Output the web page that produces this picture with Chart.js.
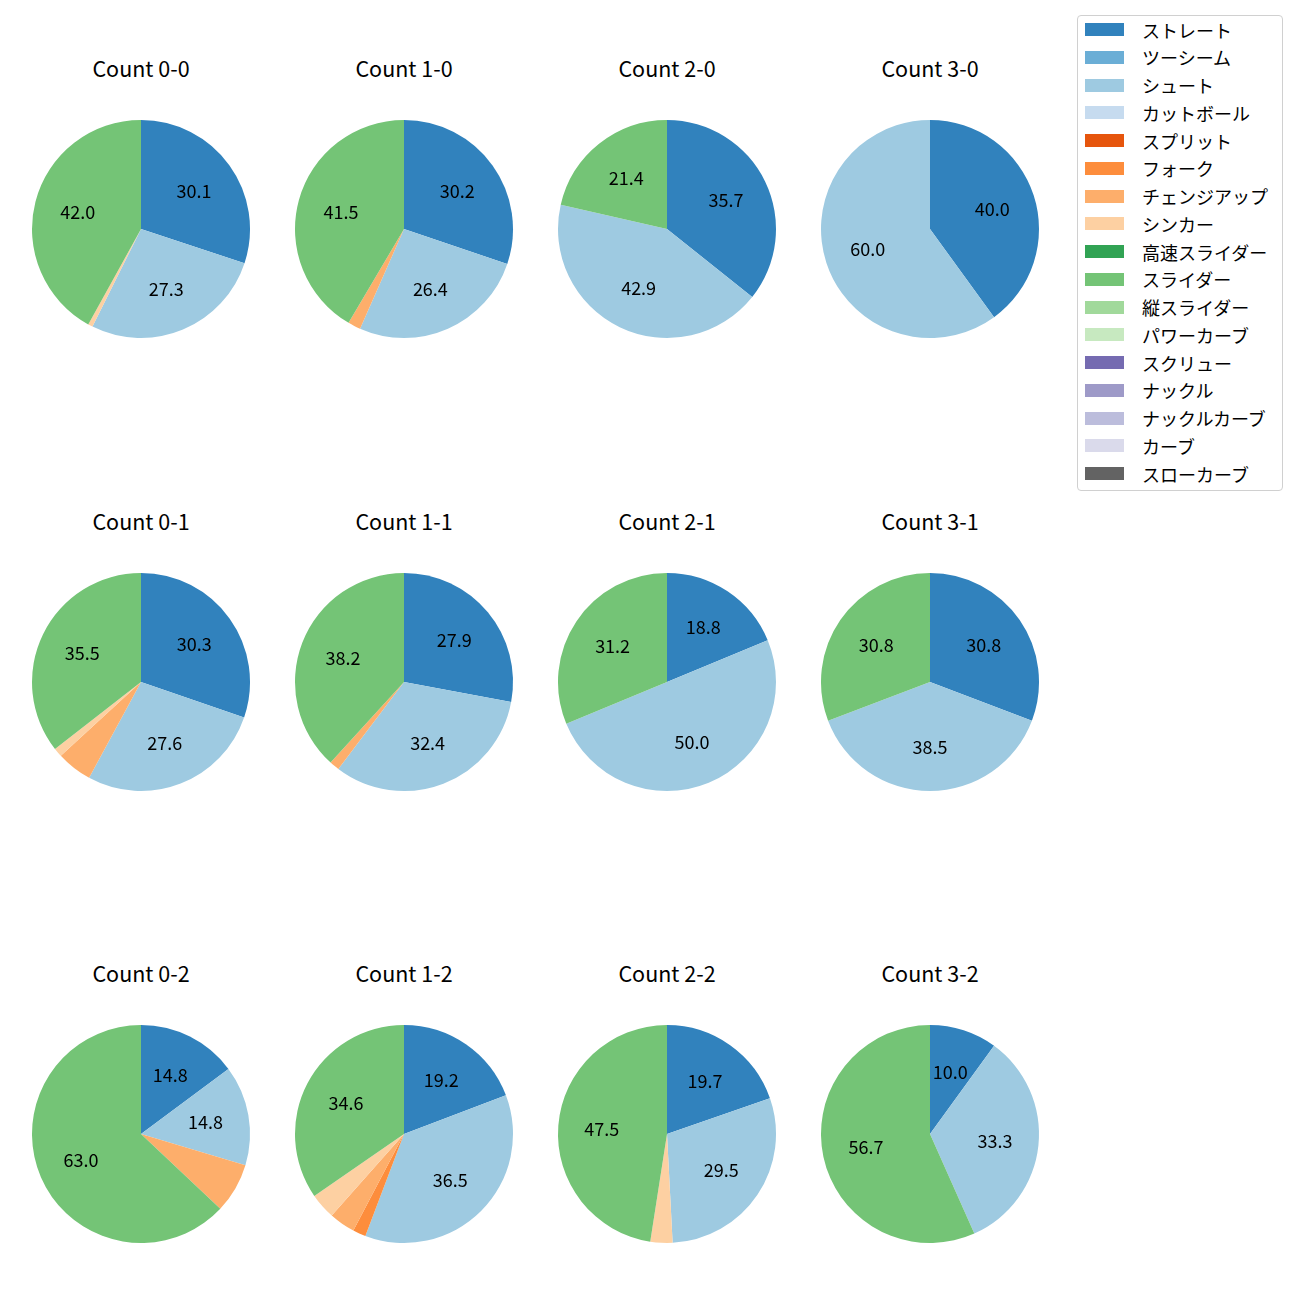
<!DOCTYPE html>
<html>
<head>
<meta charset="utf-8">
<script src="https://cdn.jsdelivr.net/npm/chart.js@4"></script>
<style>
  body { margin: 0; background: #fff; font-family: "Noto Sans CJK JP", "Noto Sans", sans-serif; }
  #page { position: relative; width: 1300px; height: 1300px; }
  .title { position: absolute; width: 240px; text-align: center; font-size: 21.5px; line-height: 1; color: #000; }
  .pie { position: absolute; }
  #legend { position: absolute; left: 1077px; top: 15px; width: 204px; height: 474px;
            border: 1px solid #d0d0d0; border-radius: 4px; background: #fff; }
  .item { position: absolute; left: 7px; height: 20px; display: flex; align-items: center; font-size: 18px; white-space: nowrap; }
  .swatch { width: 39px; height: 13px; margin-right: 18px; flex: none; }
</style>
</head>
<body>
<div id="page">
  <div id="legend"></div>
</div>
<script>
// pitch types and colours (legend order = slice order)
const pitchTypes = ['ストレート', 'ツーシーム', 'シュート', 'カットボール', 'スプリット', 'フォーク',
  'チェンジアップ', 'シンカー', '高速スライダー', 'スライダー', '縦スライダー', 'パワーカーブ',
  'スクリュー', 'ナックル', 'ナックルカーブ', 'カーブ', 'スローカーブ'];
const pitchColors = ['#3182bd', '#6baed6', '#9ecae1', '#c6dbef', '#e6550d', '#fd8d3c',
  '#fdae6b', '#fdd0a2', '#31a354', '#74c476', '#a1d99b', '#c7e9c0',
  '#756bb1', '#9e9ac8', '#bcbddc', '#dadaeb', '#636363'];

// pitch counts per ball-strike count
const count00 = [43, 0, 39, 0, 0, 0, 0, 1, 0, 60, 0, 0, 0, 0, 0, 0, 0];
const count10 = [16, 0, 14, 0, 0, 0, 1, 0, 0, 22, 0, 0, 0, 0, 0, 0, 0];
const count20 = [5, 0, 6, 0, 0, 0, 0, 0, 0, 3, 0, 0, 0, 0, 0, 0, 0];
const count30 = [2, 0, 3, 0, 0, 0, 0, 0, 0, 0, 0, 0, 0, 0, 0, 0, 0];
const count01 = [23, 0, 21, 0, 0, 0, 4, 1, 0, 27, 0, 0, 0, 0, 0, 0, 0];
const count11 = [19, 0, 22, 0, 0, 0, 1, 0, 0, 26, 0, 0, 0, 0, 0, 0, 0];
const count21 = [3, 0, 8, 0, 0, 0, 0, 0, 0, 5, 0, 0, 0, 0, 0, 0, 0];
const count31 = [4, 0, 5, 0, 0, 0, 0, 0, 0, 4, 0, 0, 0, 0, 0, 0, 0];
const count02 = [4, 0, 4, 0, 0, 0, 2, 0, 0, 17, 0, 0, 0, 0, 0, 0, 0];
const count12 = [10, 0, 19, 0, 0, 1, 2, 2, 0, 18, 0, 0, 0, 0, 0, 0, 0];
const count22 = [12, 0, 18, 0, 0, 0, 0, 2, 0, 29, 0, 0, 0, 0, 0, 0, 0];
const count32 = [3, 0, 10, 0, 0, 0, 0, 0, 0, 17, 0, 0, 0, 0, 0, 0, 0];

const countTitles = ['Count 0-0', 'Count 1-0', 'Count 2-0', 'Count 3-0',
  'Count 0-1', 'Count 1-1', 'Count 2-1', 'Count 3-1',
  'Count 0-2', 'Count 1-2', 'Count 2-2', 'Count 3-2'];
const countData = [count00, count10, count20, count30, count01, count11, count21, count31,
  count02, count12, count22, count32];

// layout
const colX = [141, 404, 667, 930];
const rowY = [229, 682, 1134];
const pieR = 109;
const canvasSize = 240;

// one decimal, ties to even (like python's '%1.1f')
function fmtPct(p) {
  const s = p * 10;
  const f = Math.floor(s);
  let r = Math.round(s);
  if (Math.abs(s - f - 0.5) < 1e-9) r = (f % 2 === 0) ? f : f + 1;
  return (r / 10).toFixed(1);
}

// percentage labels like matplotlib autopct (only for big slices)
const pctLabels = {
  id: 'pctLabels',
  afterDatasetsDraw(chart) {
    const ctx = chart.ctx;
    const data = chart.data.datasets[0].data;
    const total = data.reduce((a, b) => a + b, 0);
    const meta = chart.getDatasetMeta(0);
    ctx.save();
    ctx.font = '18px "Noto Sans CJK JP", "Noto Sans", sans-serif';
    ctx.fillStyle = '#000';
    ctx.textAlign = 'center';
    ctx.textBaseline = 'middle';
    meta.data.forEach((arc, i) => {
      const pct = data[i] / total * 100;
      if (pct < 10) return;
      const mid = (arc.startAngle + arc.endAngle) / 2;
      const r = arc.outerRadius * 0.6;
      ctx.fillText(fmtPct(pct), arc.x + Math.cos(mid) * r, arc.y + Math.sin(mid) * r);
    });
    ctx.restore();
  }
};

const page = document.getElementById('page');

countData.forEach((vals, k) => {
  const cx = colX[k % 4];
  const cy = rowY[Math.floor(k / 4)];

  const title = document.createElement('div');
  title.className = 'title';
  title.textContent = countTitles[k];
  title.style.left = (cx - 120) + 'px';
  title.style.top = (cy - 172) + 'px';
  page.appendChild(title);

  const canvas = document.createElement('canvas');
  canvas.className = 'pie';
  canvas.width = canvasSize;
  canvas.height = canvasSize;
  canvas.style.left = (cx - canvasSize / 2) + 'px';
  canvas.style.top = (cy - canvasSize / 2) + 'px';
  page.appendChild(canvas);

  new Chart(canvas.getContext('2d'), {
    type: 'pie',
    data: {
      labels: pitchTypes,
      datasets: [{
        data: vals,
        backgroundColor: pitchColors,
        borderWidth: 0
      }]
    },
    options: {
      responsive: false,
      animation: false,
      radius: pieR,
      layout: { padding: 0 },
      plugins: { legend: { display: false }, tooltip: { enabled: false } }
    },
    plugins: [pctLabels]
  });
});

// legend
const legend = document.getElementById('legend');
pitchTypes.forEach((name, i) => {
  const item = document.createElement('div');
  item.className = 'item';
  item.style.top = (14.5 - 10 + i * 27.75 - 1) + 'px';
  const sw = document.createElement('span');
  sw.className = 'swatch';
  sw.style.background = pitchColors[i];
  const tx = document.createElement('span');
  tx.textContent = name;
  item.appendChild(sw);
  item.appendChild(tx);
  legend.appendChild(item);
});
</script>
</body>
</html>
